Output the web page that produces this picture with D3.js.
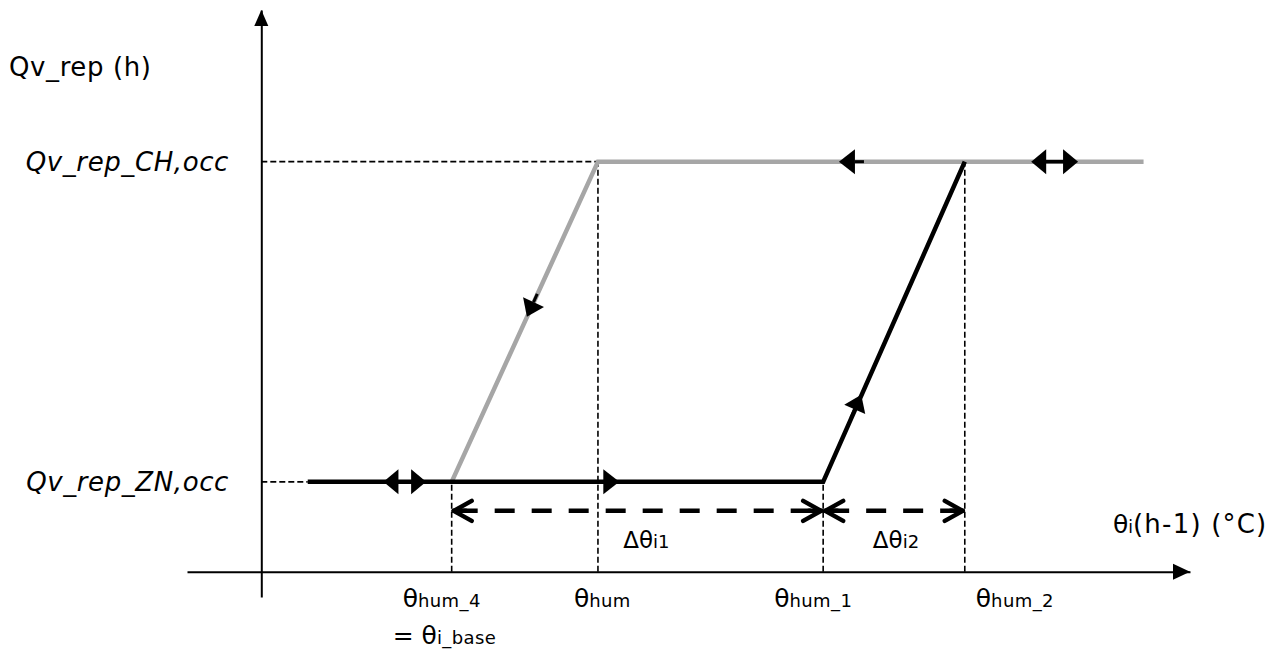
<!DOCTYPE html>
<head>
  <meta charset="utf-8" />
  <title>Qv_rep hysteresis</title>
  <script src="https://cdn.jsdelivr.net/npm/d3@7"></script>
  <style>
    body { margin: 0; background: #fff; }
    text { font-family: "DejaVu Sans", Verdana, sans-serif; fill: #000; }
  </style>
</head>
<body>
  <script>
    // switching temperatures on the x axis (arbitrary °C units)
    var thetaKeys = [4.1, 7.25, 12.1, 15.15];
    var thetaSubs = ["hum_4", "hum", "hum_1", "hum_2"];
    // airflow levels on the y axis
    var qLevels = [1.6, 7.3];
    var qLabels = ["Qv_rep_ZN,occ", "Qv_rep_CH,occ"];
    // rising branch (black) and falling branch (gray)
    var blackLine = [[1.0, 1.6], [12.1, 1.6], [15.15, 7.3]];
    var grayLine = [[4.1, 1.6], [7.25, 7.3], [19.0, 7.3]];
    // direction arrows: tip + a point it points toward
    var singleArrows = [
      { x: 7.71, y: 1.6, toX: 9, toY: 1.6 },
      { x: 12.44, y: 7.3, toX: 11, toY: 7.3 },
      { x: 5.72, y: 4.54, toX: 4.1, toY: 1.6 },
      { x: 12.92, y: 3.15, toX: 15.15, toY: 7.3 },
    ];
    var doubleArrows = [
      { x1: 2.63, x2: 3.55, y: 1.6 },
      { x1: 16.58, x2: 17.59, y: 7.3 },
    ];
    var deltas = [
      { from: 4.1, to: 12.1, sub: "i1" },
      { from: 12.1, to: 15.15, sub: "i2" },
    ];

    var width = 1275, height = 650;
    var gray = "#a6a6a6";
    var labelDx = [-49, -24, -49, 11];
    var deltaDx = [9, 2];

    var x = d3.scaleLinear().domain([-1.6, 20]).range([187, 1190]);
    var y = d3.scaleLinear().domain([-0.45, 10]).range([597, 10]);

    var svg = d3.select("body").append("svg")
      .attr("width", width).attr("height", height);

    // thin dashed guides
    var guides = svg.append("g")
      .attr("stroke", "#000").attr("stroke-width", 1.6)
      .attr("stroke-dasharray", "6,3");
    guides.append("line")
      .attr("x1", x(0)).attr("x2", x(thetaKeys[1]))
      .attr("y1", y(qLevels[1])).attr("y2", y(qLevels[1]));
    guides.append("line")
      .attr("x1", x(0)).attr("x2", x(blackLine[0][0]))
      .attr("y1", y(qLevels[0])).attr("y2", y(qLevels[0]));
    var guideTops = [qLevels[0], qLevels[1], qLevels[0], qLevels[1]];
    guides.selectAll(".v").data(thetaKeys).enter().append("line")
      .attr("x1", function (d) { return x(d); })
      .attr("x2", function (d) { return x(d); })
      .attr("y1", y(0))
      .attr("y2", function (d, i) { return y(guideTops[i]); });

    // axes
    svg.append("g").attr("transform", "translate(0," + y(0) + ")")
      .call(d3.axisBottom(x).tickValues([]).tickSizeOuter(0));
    svg.append("g").attr("transform", "translate(" + x(0) + ",0)")
      .call(d3.axisLeft(y).tickValues([]).tickSizeOuter(0));
    svg.selectAll(".domain").attr("stroke", "#000").attr("stroke-width", 2);
    var xEnd = x.range()[1], yEnd = y.range()[1];
    svg.append("path")
      .attr("d", "M" + xEnd + "," + y(0) + "L" + (xEnd - 17) + "," + (y(0) - 8) +
        "L" + (xEnd - 17) + "," + (y(0) + 8) + "Z");
    svg.append("path")
      .attr("d", "M" + x(0) + "," + yEnd + "L" + (x(0) - 7) + "," + (yEnd + 16) +
        "L" + (x(0) + 7) + "," + (yEnd + 16) + "Z");

    // branches
    var line = d3.line().x(function (d) { return x(d[0]); }).y(function (d) { return y(d[1]); });
    svg.append("path").datum(grayLine).attr("d", line)
      .attr("fill", "none").attr("stroke", gray).attr("stroke-width", 4.5);
    svg.append("path").datum(blackLine).attr("d", line)
      .attr("fill", "none").attr("stroke", "#000").attr("stroke-width", 4.5);

    function tri(tx, ty, dx, dy, len, hw) {
      var bx = tx - dx * len, by = ty - dy * len;
      return "M" + tx + "," + ty + "L" + (bx - dy * hw) + "," + (by + dx * hw) +
        "L" + (bx + dy * hw) + "," + (by - dx * hw) + "Z";
    }

    singleArrows.forEach(function (a) {
      var tx = x(a.x), ty = y(a.y);
      var vx = x(a.toX) - tx, vy = y(a.toY) - ty;
      var n = Math.sqrt(vx * vx + vy * vy);
      vx /= n; vy /= n;
      var slope = Math.abs(vy) > 0.1;
      var len = 16, hw = slope ? 11.5 : 12.5;
      svg.append("line")
        .attr("x1", tx - vx * len).attr("y1", ty - vy * len)
        .attr("x2", tx - vx * (len + 9)).attr("y2", ty - vy * (len + 9))
        .attr("stroke", "#000").attr("stroke-width", 3);
      svg.append("path").attr("d", tri(tx, ty, vx, vy, len, hw));
    });

    doubleArrows.forEach(function (a) {
      var x1 = x(a.x1), x2 = x(a.x2), yy = y(a.y);
      svg.append("line")
        .attr("x1", x1 + 10).attr("x2", x2 - 10).attr("y1", yy).attr("y2", yy)
        .attr("stroke", "#000").attr("stroke-width", 3.5);
      svg.append("path").attr("d", tri(x1, yy, -1, 0, 15, 12.5));
      svg.append("path").attr("d", tri(x2, yy, 1, 0, 15, 12.5));
    });

    // dimension arrows
    var dimY = y(qLevels[0]) + 29;
    deltas.forEach(function (d, i) {
      var a = x(d.from), b = x(d.to);
      svg.append("line")
        .attr("x1", a).attr("x2", b).attr("y1", dimY).attr("y2", dimY)
        .attr("stroke", "#000").attr("stroke-width", 4.5)
        .attr("stroke-dasharray", "20,17").attr("stroke-dashoffset", -6);
      var chev = svg.append("g").attr("fill", "none").attr("stroke", "#000")
        .attr("stroke-width", 4.5).attr("stroke-linecap", "round").attr("stroke-linejoin", "round");
      chev.append("path").attr("d", "M" + (a + 20) + "," + (dimY - 10) + "L" + (a + 2) + "," + dimY + "L" + (a + 20) + "," + (dimY + 10));
      chev.append("path").attr("d", "M" + (a + 2) + "," + dimY + "L" + (a + 14) + "," + dimY);
      chev.append("path").attr("d", "M" + (b - 20) + "," + (dimY - 10) + "L" + (b - 2) + "," + dimY + "L" + (b - 20) + "," + (dimY + 10));
      chev.append("path").attr("d", "M" + (b - 2) + "," + dimY + "L" + (b - 14) + "," + dimY);
      var t = svg.append("text")
        .attr("x", (a + b) / 2 + deltaDx[i]).attr("y", dimY + 37)
        .attr("text-anchor", "middle");
      t.append("tspan").attr("font-size", 23).text("Δθ");
      t.append("tspan").attr("font-size", 18).text(d.sub);
    });

    // tick labels
    thetaKeys.forEach(function (k, i) {
      var t = svg.append("text")
        .attr("x", x(k) + labelDx[i]).attr("y", y(0) + 35);
      t.append("tspan").attr("font-size", 25).text("θ");
      t.append("tspan").attr("font-size", 18).attr("letter-spacing", 0.4).text(thetaSubs[i]);
    });
    var base = svg.append("text").attr("x", x(thetaKeys[0]) - 59).attr("y", y(0) + 72);
    base.append("tspan").attr("font-size", 25).text("= θ");
    base.append("tspan").attr("font-size", 18).attr("letter-spacing", 0.4).text("i_base");

    // level labels
    svg.selectAll(".ql").data(qLevels).enter().append("text")
      .attr("x", 229)
      .attr("y", function (d) { return y(d) + 9; })
      .attr("text-anchor", "end")
      .attr("font-size", 26).attr("font-style", "italic")
      .attr("letter-spacing", 0.6)
      .text(function (d, i) { return qLabels[i]; });

    // axis titles
    svg.append("text").attr("x", 9).attr("y", 76)
      .attr("font-size", 26).attr("letter-spacing", 0.6)
      .text("Qv_rep (h)");
    var xt = svg.append("text").attr("x", 1113).attr("y", 533);
    xt.append("tspan").attr("font-size", 25).text("θ");
    xt.append("tspan").attr("font-size", 17).text("i");
    xt.append("tspan").attr("font-size", 26).attr("letter-spacing", 1.2).text("(h-1) (°C)");
  </script>
</body>
